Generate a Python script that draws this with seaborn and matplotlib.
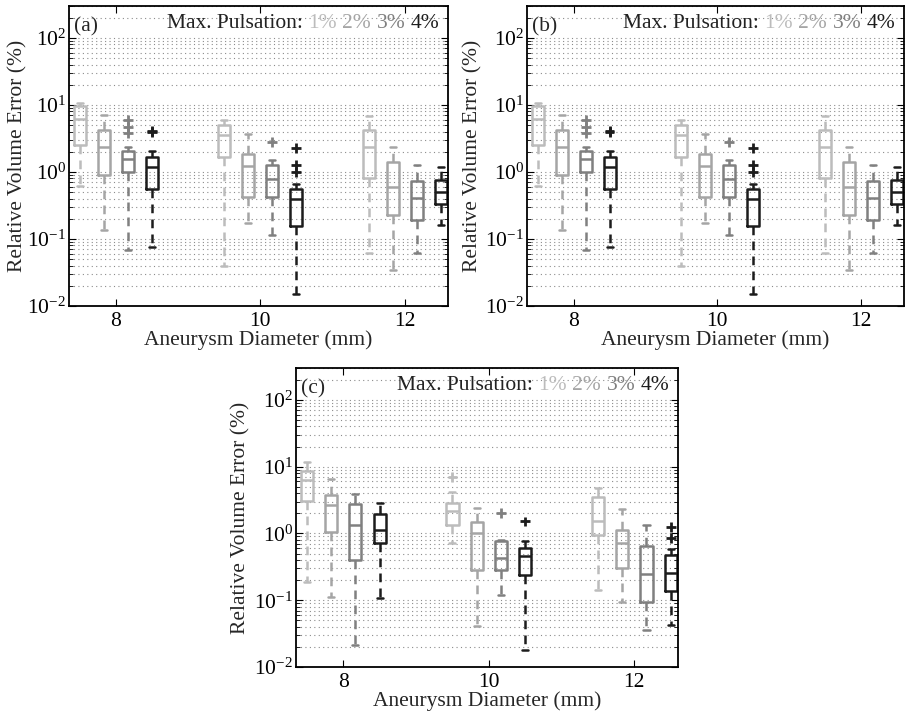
import numpy as np
import pandas as pd
import matplotlib
matplotlib.use("Agg")
import matplotlib.pyplot as plt
import seaborn as sns
from matplotlib.offsetbox import TextArea, HPacker, AnchoredOffsetbox
from matplotlib.ticker import LogLocator, NullFormatter

# ---------------- data ----------------
diameters = [8, 10, 12]
pulsations = ["1%", "2%", "3%", "4%"]
colors = ["#bcbcbc", "#a5a5a5", "#808080", "#1c1c1c"]
panel_labels = ["(a)", "(b)", "(c)"]
xticks = [8, 10, 12]

# order: diameter-major, pulsation-minor (8:1..4%, 10:1..4%, 12:1..4%)
a_lo  = [0.62, 0.136, 0.068, 0.077, 0.039, 0.175, 0.115, 0.015, 0.0625, 0.035, 0.0625, 0.16]
a_q1  = [2.55, 0.90, 1.00, 0.56, 1.68, 0.42, 0.42, 0.156, 0.80, 0.23, 0.195, 0.33]
a_med = [6.1, 2.35, 1.55, 1.17, 3.6, 1.24, 0.78, 0.40, 2.35, 0.60, 0.41, 0.50]
a_q3  = [9.7, 4.3, 2.07, 1.66, 5.0, 1.84, 1.28, 0.55, 4.25, 1.42, 0.74, 0.77]
a_hi  = [10.8, 7.0, 2.39, 2.06, 5.9, 3.7, 1.52, 0.67, 6.9, 2.4, 1.27, 1.2]
a_out_d = [8, 8, 8, 8, 8, 10, 10, 10, 10]
a_out_p = ["3%", "3%", "3%", "4%", "4%", "3%", "4%", "4%", "4%"]
a_out_v = [5.97, 4.75, 3.78, 4.1, 3.9, 2.84, 2.26, 1.26, 1.0]

b_lo, b_q1, b_med, b_q3, b_hi = a_lo, a_q1, a_med, a_q3, a_hi
b_out_d, b_out_p, b_out_v = a_out_d, a_out_p, a_out_v

c_lo  = [0.186, 0.111, 0.021, 0.107, 0.72, 0.041, 0.12, 0.018, 0.141, 0.093, 0.036, 0.043]
c_q1  = [3.1, 1.05, 0.40, 0.72, 1.32, 0.287, 0.28, 0.24, 0.955, 0.30, 0.093, 0.136]
c_med = [6.3, 2.65, 1.36, 1.13, 2.2, 1.0, 0.43, 0.46, 1.56, 0.72, 0.247, 0.26]
c_q3  = [8.6, 3.8, 2.74, 1.94, 2.9, 1.46, 0.76, 0.60, 3.5, 1.13, 0.65, 0.48]
c_hi  = [11.9, 6.5, 3.9, 2.9, 4.2, 2.44, 0.80, 0.76, 4.75, 2.31, 1.35, 0.58]
c_out_d = [10, 10, 10, 12, 12]
c_out_p = ["1%", "3%", "4%", "4%", "4%"]
c_out_v = [7.0, 2.0, 1.51, 1.24, 0.85]

panels = [
    (a_lo, a_q1, a_med, a_q3, a_hi, a_out_d, a_out_p, a_out_v),
    (b_lo, b_q1, b_med, b_q3, b_hi, b_out_d, b_out_p, b_out_v),
    (c_lo, c_q1, c_med, c_q3, c_hi, c_out_d, c_out_p, c_out_v),
]

# ---------------- style ----------------
sns.set_style("ticks")
plt.rcParams["font.family"] = ["Liberation Serif", "DejaVu Serif"]
plt.rcParams["mathtext.fontset"] = "custom"
plt.rcParams["mathtext.rm"] = "Liberation Serif"
plt.rcParams["mathtext.it"] = "Liberation Serif:italic"
plt.rcParams["mathtext.bf"] = "Liberation Serif:bold"
FS = 15.5

W, H = 905, 714
fig = plt.figure(figsize=(W / 100, H / 100), dpi=100)
fig.patch.set_facecolor("white")

# axes rectangles in pixels: left, top, width, height, ylabel centre offset
rects = [(69, 6, 379, 300, -51), (527, 6, 377, 300, -54), (296, 368, 382, 299, -55)]

WIDTH = 2 / 3  # relative to min spacing of diameters
min_spacing = np.min(np.diff(diameters))
slot = WIDTH * min_spacing / len(pulsations)


def build_frame(lo, q1, med, q3, hi):
    rows = []
    k = 0
    for d in diameters:
        for p in pulsations:
            for v in (lo[k], q1[k], med[k], q3[k], hi[k]):
                rows.append((d, p, v))
            k += 1
    return pd.DataFrame(rows, columns=["diameter", "pulsation", "error"])


for (lo, q1, med, q3, hi, od, op, ov), lab, (l, t, w, h, yl) in zip(panels, panel_labels, rects):
    ax = fig.add_axes([l / W, (H - t - h) / H, w / W, h / H])
    ax.set_yscale("log")
    df = build_frame(lo, q1, med, q3, hi)
    sns.boxplot(
        data=df, x="diameter", y="error", hue="pulsation",
        hue_order=pulsations, palette=colors, native_scale=True,
        dodge=True, width=WIDTH, gap=0.5, fill=False, whis=(0, 100),
        showfliers=False, linewidth=1.8, legend=False,
        whiskerprops=dict(linestyle=(0, (3.5, 2.5))), ax=ax,
    )
    # outliers
    odf = pd.DataFrame({"diameter": od, "pulsation": op, "error": ov})
    odf["x"] = odf["diameter"] + (odf["pulsation"].map({p: i for i, p in enumerate(pulsations)})
                                  - (len(pulsations) - 1) / 2) * slot
    sns.scatterplot(data=odf, x="x", y="error", hue="pulsation", hue_order=pulsations,
                    palette=colors, marker="+", s=50, linewidth=2.0, legend=False, ax=ax,
                    zorder=5)

    ax.set_xlim(7.35, 12.6)
    ax.set_ylim(0.01, 300)
    ax.set_xticks(xticks)
    ax.set_xticklabels([str(x) for x in xticks])
    ax.yaxis.set_major_locator(LogLocator(base=10, numticks=10))
    ax.yaxis.set_minor_locator(LogLocator(base=10, subs=np.arange(2, 10), numticks=20))
    ax.yaxis.set_minor_formatter(NullFormatter())
    ax.yaxis.grid(True, which="both", linestyle=(0, (1, 3)), linewidth=0.8, color="#8c8c8c")
    ax.set_axisbelow(True)
    ax.tick_params(axis="both", which="both", direction="in", top=True, right=True,
                   labelsize=FS, colors="black")
    ax.tick_params(axis="x", pad=4)
    ax.tick_params(axis="y", pad=2)
    ax.tick_params(which="major", length=5, width=0.8)
    ax.tick_params(which="minor", length=3, width=0.6)
    for s in ax.spines.values():
        s.set_visible(True)
        s.set_color("black")
        s.set_linewidth(1.3)
    ax.set_xlabel("Aneurysm Diameter (mm)", fontsize=FS, labelpad=0)
    ax.set_ylabel("Relative Volume Error (%)", fontsize=FS, va="center")
    ax.yaxis.set_label_coords(yl / w, 0.5)

    ax.text(0.012, 0.93, lab, transform=ax.transAxes, fontsize=FS, va="center", ha="left")
    children = [TextArea("Max. Pulsation:", textprops=dict(color="#222222", size=FS))]
    children += [TextArea(p, textprops=dict(color=c, size=FS)) for p, c in zip(pulsations, colors)]
    hp = HPacker(children=children, align="baseline", pad=0, sep=4)
    ab = AnchoredOffsetbox(loc="upper right", child=hp, pad=0, borderpad=0.6, frameon=False,
                           bbox_to_anchor=(1, 1), bbox_transform=ax.transAxes)
    ax.add_artist(ab)

fig.savefig("out.png", dpi=100)
